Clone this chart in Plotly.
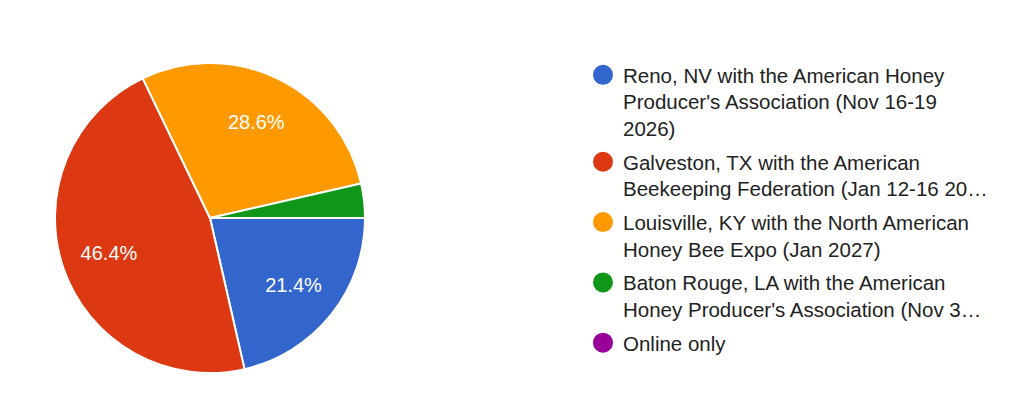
import plotly.graph_objects as go

labels = [
    "Reno, NV with the American Honey<br>Producer's Association (Nov 16-19<br>2026)",
    "Galveston, TX with the American<br>Beekeeping Federation (Jan 12-16 20…",
    "Louisville, KY with the North American<br>Honey Bee Expo (Jan 2027)",
    "Baton Rouge, LA with the American<br>Honey Producer's Association (Nov 3…",
    "Online only",
]
counts = [6, 13, 8, 1, 0]
colors = ["#3366CC", "#DC3912", "#FF9900", "#109618", "#990099"]
show_pct = [True, True, True, False, False]

FONT = "Liberation Sans, Arial, sans-serif"
CX, CY, R = 210, 202, 155  # pie centre (px from left / bottom) and radius
dom = dict(x=[(CX - R) / 1024, (CX + R) / 1024],
           y=[(CY - R) / 420, (CY + R) / 420])

fig = go.Figure()
# the filled pie
fig.add_trace(go.Pie(
    labels=labels, values=counts, sort=False,
    direction="clockwise", rotation=90,
    marker=dict(colors=colors, line=dict(color="white", width=2)),
    textinfo="none", showlegend=False,
    hoverinfo="label+percent", domain=dom,
))
# transparent ring carrying the percentage labels (places them at ~0.69 r)
fig.add_trace(go.Pie(
    labels=labels, values=counts, sort=False,
    direction="clockwise", rotation=90, hole=0.38,
    marker=dict(colors=["rgba(0,0,0,0)"] * len(counts), line=dict(width=0)),
    texttemplate=["%{percent:.1%}" if s else "" for s in show_pct],
    textposition="inside", insidetextorientation="horizontal",
    textfont=dict(color="white", size=20, family=FONT),
    showlegend=False, hoverinfo="skip", domain=dom,
))

for lab, col in zip(labels, colors):
    fig.add_trace(go.Scatter(
        x=[None], y=[None], mode="markers", name=lab,
        marker=dict(color=col, size=16, symbol="circle",
                    line=dict(color=col, width=4)),
        legendgroup=lab, showlegend=True,
    ))

fig.update_layout(
    width=1024, height=420,
    margin=dict(l=0, r=0, t=0, b=0),
    paper_bgcolor="white", plot_bgcolor="white",
    xaxis=dict(visible=False), yaxis=dict(visible=False),
    font=dict(family=FONT, color="#222222", size=20),
    legend=dict(
        x=583 / 1024, y=1 - 55 / 420, xanchor="left", yanchor="top",
        valign="top", traceorder="grouped", tracegroupgap=4,
        font=dict(size=20.5, color="#222222", family=FONT),
        bgcolor="rgba(0,0,0,0)",
    ),
)

fig.write_html("out.html")
